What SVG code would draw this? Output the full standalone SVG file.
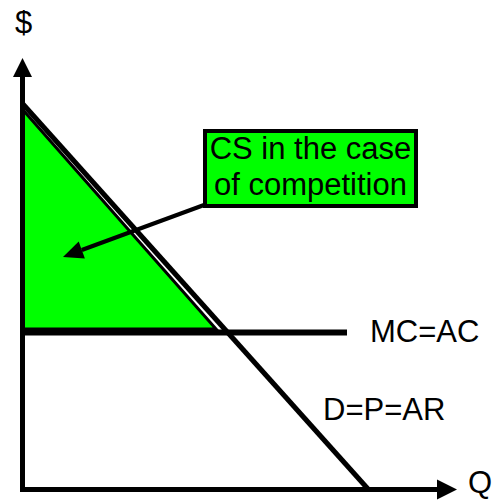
<svg xmlns="http://www.w3.org/2000/svg" width="496" height="501" viewBox="0 0 496 501">
<style>
.lbl{font-family:"Liberation Sans",Arial,sans-serif;font-size:31px;fill:#000}
.ax{stroke:#000;stroke-width:5;fill:none}
.head{fill:#000;stroke:none}
</style>
<rect width="496" height="501" fill="#fff"/>
<g id="cs-area">
<polygon points="23,110 23,329 216,329" fill="#00ff00" stroke="#000" stroke-width="3" stroke-linejoin="miter"/>
</g>
<g id="connectors">
<line class="ax" x1="22.5" y1="491.5" x2="22.5" y2="76"/>
<polygon class="head" points="22.5,58 13,77 32,77"/>
<line class="ax" x1="20" y1="489.5" x2="438" y2="489.5"/>
<polygon class="head" points="457,489.5 437,479.5 437,499.5"/>
<line id="demand" stroke="#000" stroke-width="5" x1="22" y1="103" x2="368" y2="489"/>
<line id="mc" stroke="#000" stroke-width="6" x1="22" y1="332.5" x2="347" y2="332.5"/>
<line stroke="#000" stroke-width="4" x1="204" y1="205" x2="81.8" y2="250"/>
<polygon class="head" points="63,257 84.9,258.4 78.7,241.6"/>
</g>
<g id="label-box">
<rect x="205" y="131" width="211" height="75" fill="#00ff00" stroke="#000" stroke-width="4"/>
<text class="lbl" x="310.5" y="159" text-anchor="middle">CS in the case</text>
<text class="lbl" x="310.5" y="195" text-anchor="middle">of competition</text>
</g>
<g id="labels">
<text class="lbl" x="15" y="33">$</text>
<text class="lbl" x="370" y="342">MC=AC</text>
<text class="lbl" x="323" y="420">D=P=AR</text>
<text class="lbl" x="468" y="493">Q</text>
</g>
</svg>
